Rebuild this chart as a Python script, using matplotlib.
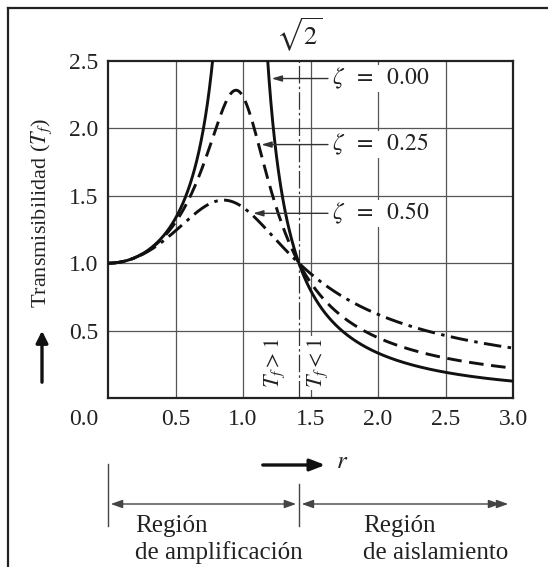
import numpy as np
import matplotlib
matplotlib.use("Agg")
import matplotlib.pyplot as plt
from matplotlib.patches import FancyArrowPatch

plt.rcParams["font.family"] = ["Liberation Serif", "DejaVu Serif"]
plt.rcParams["mathtext.fontset"] = "stix"

# Damping ratios of the three plotted curves and their labels
zetas = [0.00, 0.25, 0.50]
zeta_labels = [r"$\zeta\ \;=\ \;0.00$", r"$\zeta\ \;=\ \;0.25$", r"$\zeta\ \;=\ \;0.50$"]
label_heights = [2.37, 1.88, 1.37]
x_ticks = [0.0, 0.5, 1.0, 1.5, 2.0, 2.5, 3.0]
x_ticklabels = ["0.0", "0.5", "1.0", "1.5", "2.0", "2.5", "3.0"]
y_ticks = [0.5, 1.0, 1.5, 2.0, 2.5]
y_ticklabels = ["0.5", "1.0", "1.5", "2.0", "2.5"]


def transmissibility(r, z):
    num = 1.0 + (2.0 * z * r) ** 2
    den = (1.0 - r ** 2) ** 2 + (2.0 * z * r) ** 2
    with np.errstate(divide="ignore", invalid="ignore"):
        t = np.sqrt(num / den)
    t[~np.isfinite(t)] = np.nan
    return t


W, H, DPI = 548, 567, 100
FS = 17
INK = "#222222"
fig = plt.figure(figsize=(W / DPI, H / DPI), dpi=DPI)


def px(x, y):
    return (x / W, 1 - y / H)


# frame lines along the top and left edges
fig.add_artist(plt.Line2D([8 / W, 1.0], [1 - 8 / H, 1 - 8 / H], color=INK, lw=1.6))
fig.add_artist(plt.Line2D([8 / W, 8 / W], [0.0, 1 - 8 / H], color=INK, lw=1.6))

ax_l, ax_r, ax_t, ax_b = 108, 513, 61, 398
ax = fig.add_axes([ax_l / W, 1 - ax_b / H, (ax_r - ax_l) / W, (ax_b - ax_t) / H])
ax.set_xlim(0, 3)
ax.set_ylim(0, 2.5)

r = np.linspace(0, 3, 1501)
styles = [dict(ls="-"), dict(ls=(0, (5, 2.6))), dict(ls=(0, (6, 2.2, 1.2, 2.2)))]
curves = []
for z, st in zip(zetas, styles):
    t = transmissibility(r, z)
    curves.append(t)
    ax.plot(r, t, color="#111111", lw=2.1, zorder=4, **st)

# grid
for xv in x_ticks[1:-1]:
    ax.axvline(xv, color="#555555", lw=0.9, zorder=1)
for yv in y_ticks[:-1]:
    ax.axhline(yv, color="#555555", lw=0.9, zorder=1)
ax.axvline(np.sqrt(2), color="#333333", lw=0.9, ls=(0, (14, 2.5, 2, 2.5)), zorder=1)

for s in ax.spines.values():
    s.set_linewidth(1.6)
    s.set_color(INK)

ax.set_xticks(x_ticks)
ax.set_xticklabels([""] + x_ticklabels[1:])
ax.set_yticks(y_ticks)
ax.set_yticklabels(y_ticklabels)
ax.tick_params(length=0, labelsize=FS, colors=INK)
ax.tick_params(axis="x", pad=8)
ax.tick_params(axis="y", pad=7)
ax.annotate(x_ticklabels[0], xy=(0, 0), xycoords=("data", "axes fraction"),
            xytext=(-24, -11), textcoords="offset pixels", ha="center", va="top",
            fontsize=FS, color=INK)

# zeta labels with arrows pointing to each curve's falling branch
x_lab = (332 - ax_l) / ((ax_r - ax_l) / 3)
for z, lab, h, t in zip(zetas, zeta_labels, label_heights, curves):
    mask = (r > 1.0) & np.isfinite(t)
    rr, tt = r[mask], t[mask]
    x_tip = np.interp(-h, -tt, rr)
    ax.text(x_lab, h, lab, fontsize=FS, ha="left", va="center", color=INK, zorder=6,
            bbox=dict(boxstyle="square,pad=0.05", fc="white", ec="none"))
    ax.annotate("", xy=(x_tip + 0.02, h), xytext=(x_lab - 0.03, h),
                arrowprops=dict(arrowstyle="-|>,head_length=0.6,head_width=0.18",
                                color="#333333", lw=1.0, shrinkA=0, shrinkB=0), zorder=5)

# T_f > 1 / T_f < 1 markers
for xv, s in [(1.237, r"$T_f > 1$"), (1.55, r"$T_f < 1$")]:
    ax.text(xv, 0.26, s, rotation=90, fontsize=FS - 1, ha="center", va="center",
            color=INK, zorder=3,
            bbox=dict(boxstyle="square,pad=0.1", fc="white", ec="none"))

# sqrt(2) marker
ax.annotate(r"$\sqrt{2}$", xy=(np.sqrt(2), 1), xycoords=("data", "axes fraction"),
            xytext=(0, 7), textcoords="offset pixels", ha="center", va="bottom",
            fontsize=19, color=INK)

# y-axis title with arrow
fig.text(42 / W, 1 - 213 / H, r"Transmisibilidad ($T_f$)", rotation=90, fontsize=16,
         ha="center", va="center", color=INK)
fig.patches.append(FancyArrowPatch(px(42, 385), px(42, 328), transform=fig.transFigure,
                                   arrowstyle="-|>,head_length=7,head_width=3.5",
                                   lw=2.4, color="#111111", mutation_scale=1))

# x-axis title with arrow
fig.patches.append(FancyArrowPatch(px(260, 465), px(328, 465), transform=fig.transFigure,
                                   arrowstyle="-|>,head_length=9,head_width=3.5",
                                   lw=2.4, color="#111111", mutation_scale=1))
fig.text(336 / W, 1 - 462 / H, r"$r$", fontsize=FS + 1, ha="left", va="center", color=INK)

# region brackets
x_root = ax_l + np.sqrt(2) * (ax_r - ax_l) / 3
fig.add_artist(plt.Line2D([ax_l / W, ax_l / W], [1 - 464 / H, 1 - 526 / H], color="#444444", lw=1.0))
fig.add_artist(plt.Line2D([x_root / W, x_root / W], [1 - 484 / H, 1 - 526 / H], color="#444444", lw=1.0))
fig.patches.append(FancyArrowPatch(px(ax_l, 504), px(x_root, 504), transform=fig.transFigure,
                                   arrowstyle="<|-|>,head_length=7,head_width=2.5",
                                   lw=1.0, color="#444444", mutation_scale=1))
fig.patches.append(FancyArrowPatch(px(x_root, 504), px(503, 504), transform=fig.transFigure,
                                   arrowstyle="<|-|>,head_length=7,head_width=2.5",
                                   lw=1.0, color="#444444", mutation_scale=1))
fig.patches.append(FancyArrowPatch(px(495, 504), px(511, 504), transform=fig.transFigure,
                                   arrowstyle="-|>,head_length=7,head_width=2.5",
                                   lw=1.0, color="#444444", mutation_scale=1))

fig.text(135 / W, 1 - 526 / H, "Región", fontsize=FS + 1, ha="left", va="center", color=INK)
fig.text(135 / W, 1 - 553 / H, "de amplificación", fontsize=FS + 1, ha="left", va="center", color=INK)
fig.text(363 / W, 1 - 526 / H, "Región", fontsize=FS + 1, ha="left", va="center", color=INK)
fig.text(363 / W, 1 - 553 / H, "de aislamiento", fontsize=FS + 1, ha="left", va="center", color=INK)

fig.savefig("out.png", dpi=DPI)
